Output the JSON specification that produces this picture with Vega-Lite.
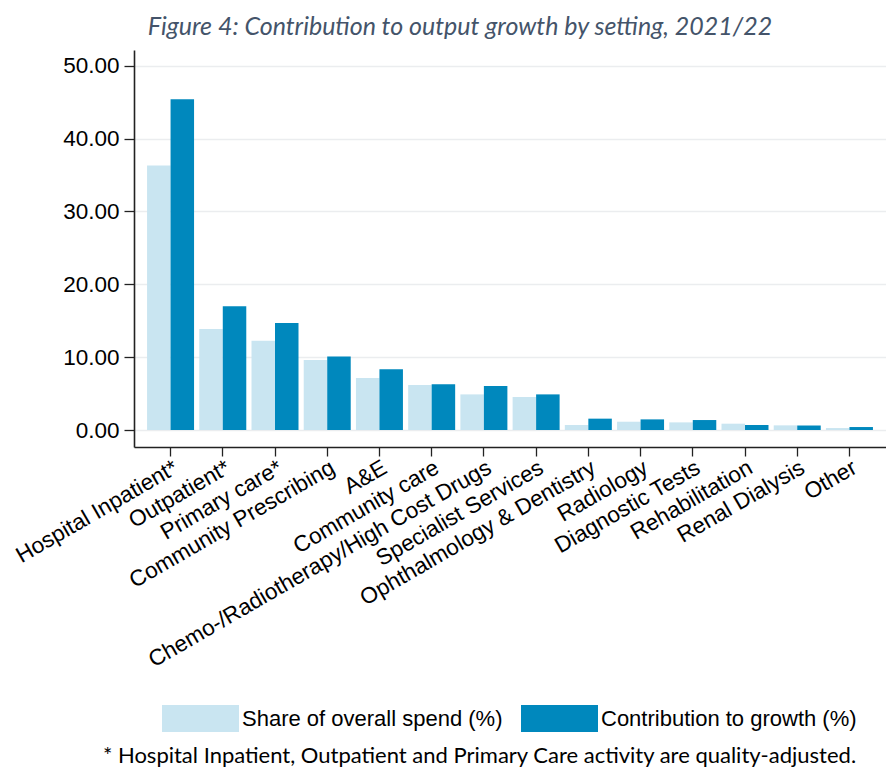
{
  "$schema": "https://vega.github.io/schema/vega-lite/v6.json",
  "autosize": "none",
  "padding": {"left": 134, "top": 50, "right": 0, "bottom": 322},
  "width": 752,
  "height": 397,
  "background": "white",
  "title": {
    "text": "Figure 4: Contribution to output growth by setting, 2021/22",
    "font": "Lato",
    "fontStyle": "italic",
    "fontWeight": "normal",
    "fontSize": 25,
    "color": "#44546A",
    "anchor": "middle",
    "dx": -50,
    "offset": 10
  },
  "data": {
    "values": [
      {"setting": "Hospital Inpatient*", "series": "Share of overall spend (%)", "value": 36.3},
      {"setting": "Hospital Inpatient*", "series": "Contribution to growth (%)", "value": 45.4},
      {"setting": "Outpatient*", "series": "Share of overall spend (%)", "value": 13.86},
      {"setting": "Outpatient*", "series": "Contribution to growth (%)", "value": 16.97},
      {"setting": "Primary care*", "series": "Share of overall spend (%)", "value": 12.26},
      {"setting": "Primary care*", "series": "Contribution to growth (%)", "value": 14.68},
      {"setting": "Community Prescribing", "series": "Share of overall spend (%)", "value": 9.6},
      {"setting": "Community Prescribing", "series": "Contribution to growth (%)", "value": 10.1},
      {"setting": "A&E", "series": "Share of overall spend (%)", "value": 7.14},
      {"setting": "A&E", "series": "Contribution to growth (%)", "value": 8.33},
      {"setting": "Community care", "series": "Share of overall spend (%)", "value": 6.18},
      {"setting": "Community care", "series": "Contribution to growth (%)", "value": 6.27},
      {"setting": "Chemo-/Radiotherapy/High Cost Drugs", "series": "Share of overall spend (%)", "value": 4.89},
      {"setting": "Chemo-/Radiotherapy/High Cost Drugs", "series": "Contribution to growth (%)", "value": 6.04},
      {"setting": "Specialist Services", "series": "Share of overall spend (%)", "value": 4.53},
      {"setting": "Specialist Services", "series": "Contribution to growth (%)", "value": 4.89},
      {"setting": "Ophthalmology & Dentistry", "series": "Share of overall spend (%)", "value": 0.69},
      {"setting": "Ophthalmology & Dentistry", "series": "Contribution to growth (%)", "value": 1.56},
      {"setting": "Radiology", "series": "Share of overall spend (%)", "value": 1.14},
      {"setting": "Radiology", "series": "Contribution to growth (%)", "value": 1.46},
      {"setting": "Diagnostic Tests", "series": "Share of overall spend (%)", "value": 1.05},
      {"setting": "Diagnostic Tests", "series": "Contribution to growth (%)", "value": 1.37},
      {"setting": "Rehabilitation", "series": "Share of overall spend (%)", "value": 0.87},
      {"setting": "Rehabilitation", "series": "Contribution to growth (%)", "value": 0.69},
      {"setting": "Renal Dialysis", "series": "Share of overall spend (%)", "value": 0.64},
      {"setting": "Renal Dialysis", "series": "Contribution to growth (%)", "value": 0.62},
      {"setting": "Other", "series": "Share of overall spend (%)", "value": 0.27},
      {"setting": "Other", "series": "Contribution to growth (%)", "value": 0.41}
    ]
  },
  "mark": {"type": "bar"},
  "encoding": {
    "x": {
      "field": "setting",
      "type": "nominal",
      "sort": null,
      "scale": {"paddingInner": 0.1, "paddingOuter": 0.25},
      "axis": {
        "title": "* Hospital Inpatient, Outpatient and Primary Care activity are quality-adjusted.",
        "titleFont": "Lato",
        "titleFontSize": 22,
        "titleFontWeight": "normal",
        "titleColor": "#000000",
        "titleX": 345,
        "titleY": 315,
        "titleAlign": "center",
        "titleBaseline": "alphabetic",
        "labelAngle": -30,
        "labelAlign": "right",
        "labelBaseline": "top",
        "labelFont": "Liberation Sans",
        "labelFontSize": 22.5,
        "labelColor": "#000000",
        "labelPadding": 0,
        "labelLimit": 1000,
        "labelOverlap": false,
        "tickSize": 9,
        "tickColor": "#222222",
        "tickWidth": 1.3,
        "domainColor": "#222222",
        "domainWidth": 1.6,
        "grid": false
      }
    },
    "xOffset": {
      "field": "series",
      "type": "nominal",
      "sort": ["Share of overall spend (%)", "Contribution to growth (%)"],
      "scale": {"paddingInner": 0, "paddingOuter": 0}
    },
    "y": {
      "field": "value",
      "type": "quantitative",
      "scale": {"domain": [-2.33, 52.15], "nice": false, "zero": false},
      "axis": {
        "title": null,
        "values": [0, 10, 20, 30, 40, 50],
        "format": ".2f",
        "labelFont": "Liberation Sans",
        "labelFontSize": 22.5,
        "labelColor": "#000000",
        "labelPadding": 5,
        "tickSize": 10,
        "tickColor": "#222222",
        "tickWidth": 1.3,
        "domainColor": "#222222",
        "domainWidth": 1.6,
        "grid": true,
        "gridColor": "#EBEDEF",
        "gridWidth": 1.6
      }
    },
    "color": {
      "field": "series",
      "type": "nominal",
      "sort": ["Share of overall spend (%)", "Contribution to growth (%)"],
      "scale": {
        "domain": ["Share of overall spend (%)", "Contribution to growth (%)"],
        "range": ["#C9E5F1", "#0088BD"]
      },
      "legend": {
        "title": null,
        "orient": "none",
        "legendX": 28,
        "legendY": 630,
        "direction": "horizontal",
        "symbolType": "M-1,-0.35L1,-0.35L1,0.35L-1,0.35Z",
        "symbolSize": 5929,
        "symbolStrokeWidth": 0,
        "symbolOpacity": 1,
        "labelFont": "Liberation Sans",
        "labelFontSize": 22,
        "labelColor": "#000000",
        "labelOffset": 3,
        "labelLimit": 1000,
        "columnPadding": 18
      }
    }
  },
  "config": {
    "view": {"stroke": null}
  }
}
